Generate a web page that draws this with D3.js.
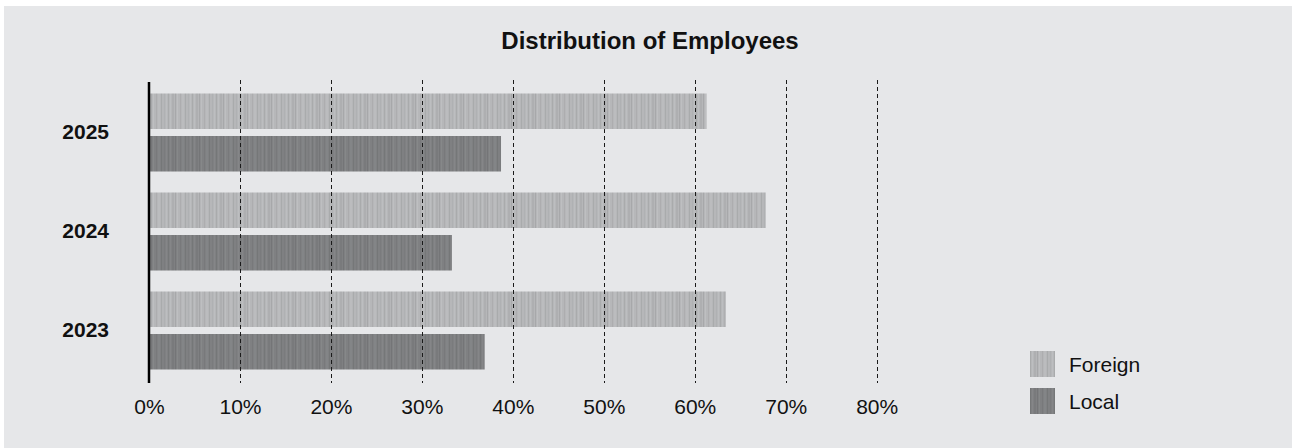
<!DOCTYPE html>
<html>
<head>
<meta charset="utf-8">
<script src="https://cdn.jsdelivr.net/npm/d3@7/dist/d3.min.js"></script>
<style>
  html, body { margin: 0; padding: 0; background: #ffffff; }
  svg { display: block; }
  text { font-family: "Liberation Sans", Arial, Helvetica, sans-serif; fill: #111; }
</style>
</head>
<body>
<svg id="chart" width="1300" height="448"></svg>
<script>
// Share of employees by origin, per year (percent)
const years = ["2025", "2024", "2023"];
const seriesNames = ["Foreign", "Local"];
const foreign = [61.3, 67.8, 63.4];
const local = [38.7, 33.3, 36.9];
const tickValues = [0, 10, 20, 30, 40, 50, 60, 70, 80];
const title = "Distribution of Employees";

const seriesValues = { Foreign: foreign, Local: local };
const rows = years.map((y, i) => ({
  year: y,
  values: seriesNames.map(s => ({ series: s, value: seriesValues[s][i] }))
}));

const svg = d3.select("#chart");
const W = 1300, H = 448;

// Panel background
svg.append("rect")
  .attr("x", 4).attr("y", 6)
  .attr("width", 1288).attr("height", H - 6)
  .attr("fill", "#e6e7e9");

// Fine vertical streak textures for the two series
const defs = svg.append("defs");
const palette = {
  Foreign: { base: "#b6b7b9", dark: "#a6a7a9", light: "#c0c1c3" },
  Local:   { base: "#7f8082", dark: "#737476", light: "#88898b" }
};
const streaks = [
  [0, 1, "dark", 0.8], [2, 1, "light", 0.7], [4, 2, "dark", 0.5],
  [7, 1, "dark", 0.9], [9, 1, "light", 0.8], [12, 1, "dark", 0.6],
  [14, 2, "light", 0.5], [17, 1, "dark", 0.8], [20, 1, "dark", 0.4],
  [22, 1, "light", 0.7]
];
seriesNames.forEach(s => {
  const p = defs.append("pattern")
    .attr("id", "tex-" + s)
    .attr("patternUnits", "userSpaceOnUse")
    .attr("width", 24).attr("height", 48);
  p.append("rect").attr("width", 24).attr("height", 48).attr("fill", palette[s].base);
  streaks.forEach(([sx, sw, tone, op]) => {
    p.append("rect").attr("x", sx).attr("y", 0)
      .attr("width", sw).attr("height", 48)
      .attr("fill", palette[s][tone]).attr("opacity", op);
  });
});

// Scales
const x = d3.scaleLinear().domain([0, 80]).range([149, 876.7]);
const y = d3.scaleBand().domain(years).range([83, 380])
  .paddingInner(0.212).paddingOuter(0.106);
const yInner = d3.scaleBand().domain(seriesNames).range([0, y.bandwidth()])
  .paddingInner(0.165);

// Bars
const groups = svg.append("g").selectAll("g")
  .data(rows).join("g")
  .attr("transform", d => `translate(0,${y(d.year)})`);

groups.selectAll("rect")
  .data(d => d.values).join("rect")
  .attr("x", x(0))
  .attr("y", d => yInner(d.series))
  .attr("width", d => x(d.value) - x(0))
  .attr("height", yInner.bandwidth())
  .attr("fill", d => `url(#tex-${d.series})`);

// Dashed vertical gridlines drawn over the bars
svg.append("g").selectAll("line")
  .data(tickValues.filter(v => v > 0)).join("line")
  .attr("x1", d => Math.round(x(d)) + 0.5).attr("x2", d => Math.round(x(d)) + 0.5)
  .attr("y1", 80).attr("y2", 383)
  .attr("stroke", "#1a1a1a")
  .attr("stroke-width", 1)
  .attr("stroke-dasharray", "4,3");

// Bottom axis: labels only
const xAxis = d3.axisBottom(x)
  .tickValues(tickValues)
  .tickFormat(d => d + "%")
  .tickSize(0)
  .tickPadding(0);
const gx = svg.append("g").attr("transform", "translate(0,399)").call(xAxis);
gx.select(".domain").remove();
gx.selectAll("text")
  .attr("dy", "0.71em")
  .style("font-size", "21px")
  .style("font-family", "'Liberation Sans', Arial, sans-serif")
  .attr("fill", "#111");

// Left axis: solid line and bold year labels
const yAxis = d3.axisLeft(y).tickSize(0).tickPadding(40);
const gy = svg.append("g").attr("transform", `translate(${x(0)},0)`).call(yAxis);
gy.select(".domain").remove();
gy.selectAll("text")
  .style("font-size", "21px")
  .style("font-weight", "bold")
  .style("font-family", "'Liberation Sans', Arial, sans-serif")
  .attr("fill", "#111");

svg.append("line")
  .attr("x1", x(0)).attr("x2", x(0))
  .attr("y1", 82).attr("y2", 383)
  .attr("stroke", "#000")
  .attr("stroke-width", 2.5);

// Title
svg.append("text")
  .attr("x", 650).attr("y", 49)
  .attr("text-anchor", "middle")
  .style("font-size", "24px")
  .style("font-weight", "bold")
  .text(title);

// Legend
const legend = svg.append("g").attr("transform", "translate(1030,351)");
const li = legend.selectAll("g").data(seriesNames).join("g")
  .attr("transform", (d, i) => `translate(0,${i * 37})`);
li.append("rect")
  .attr("width", 25).attr("height", 26)
  .attr("fill", d => `url(#tex-${d})`);
li.append("text")
  .attr("x", 39).attr("y", 21)
  .style("font-size", "21px")
  .text(d => d);
</script>
</body>
</html>
